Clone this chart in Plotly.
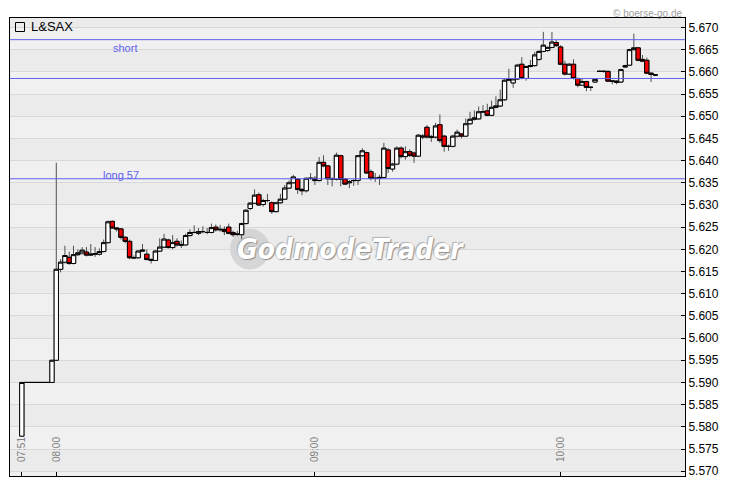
import plotly.graph_objects as go
import pandas as pd

# ---------------- data ----------------
missing_minutes = ["07:56", "09:17", "09:31", "09:46"]
times = [t for t in pd.date_range("2024-01-01 07:51", "2024-01-01 10:22", freq="min").strftime("%H:%M")
         if t not in missing_minutes]
tick_labels = ["07:51", "08:00", "09:00", "10:00"]
y_ticks = [5.570, 5.575, 5.580, 5.585, 5.590, 5.595, 5.600, 5.605, 5.610, 5.615, 5.620, 5.625,
           5.630, 5.635, 5.640, 5.645, 5.650, 5.655, 5.660, 5.665, 5.670]

opens = [5.5779, 5.5900, 5.5900, 5.5900, 5.5900, 5.5900, 5.5900, 5.5900, 5.5950,
         5.6155, 5.6171, 5.6182, 5.6168, 5.6188, 5.6192, 5.6194, 5.6187, 5.6189,
         5.6189, 5.6195, 5.6215, 5.6263, 5.6248, 5.6246, 5.6227, 5.6218, 5.6181, 5.6181,
         5.6196, 5.6189, 5.6177, 5.6175, 5.6196, 5.6205, 5.6221, 5.6204, 5.6218, 5.6210,
         5.6210, 5.6231, 5.6238, 5.6236, 5.6240, 5.6238, 5.6238, 5.6250, 5.6244, 5.6245,
         5.6250, 5.6238, 5.6234, 5.6233, 5.6258, 5.6292, 5.6304, 5.6323, 5.6301, 5.6310,
         5.6305, 5.6285, 5.6305, 5.6313, 5.6338, 5.6350, 5.6358, 5.6335, 5.6332, 5.6360,
         5.6360, 5.6355, 5.6396, 5.6388, 5.6359, 5.6358, 5.6411, 5.6358, 5.6350, 5.6355,
         5.6355, 5.6411, 5.6418, 5.6375, 5.6360, 5.6360, 5.6362, 5.6424, 5.6381, 5.6392,
         5.6428, 5.6409, 5.6420, 5.6417, 5.6410, 5.6453, 5.6475, 5.6453, 5.6453, 5.6481,
         5.6455, 5.6432, 5.6432, 5.6455, 5.6460, 5.6455, 5.6483, 5.6493, 5.6494, 5.6510,
         5.6512, 5.6502, 5.6520, 5.6523, 5.6537, 5.6581, 5.6575, 5.6584, 5.6617, 5.6585,
         5.6612, 5.6614, 5.6628, 5.6646, 5.6648, 5.6655, 5.6666, 5.6656, 5.6617, 5.6595,
         5.6617, 5.6585, 5.6570, 5.6578, 5.6565, 5.6577, 5.6601, 5.6601, 5.6601, 5.6579,
         5.6576, 5.6577, 5.6614, 5.6615, 5.6650, 5.6654, 5.6628, 5.6626, 5.6597, 5.6593]

closes = [5.5900, 5.5900, 5.5900, 5.5900, 5.5900, 5.5900, 5.5900, 5.5950, 5.6155,
          5.6171, 5.6186, 5.6168, 5.6188, 5.6192, 5.6198, 5.6187, 5.6189, 5.6190,
          5.6195, 5.6215, 5.6262, 5.6248, 5.6246, 5.6227, 5.6218, 5.6181, 5.6181, 5.6196,
          5.6198, 5.6177, 5.6175, 5.6196, 5.6205, 5.6223, 5.6204, 5.6215, 5.6210, 5.6210,
          5.6231, 5.6238, 5.6238, 5.6240, 5.6240, 5.6238, 5.6249, 5.6244, 5.6245, 5.6240,
          5.6236, 5.6233, 5.6234, 5.6258, 5.6288, 5.6304, 5.6322, 5.6300, 5.6310, 5.6310,
          5.6285, 5.6305, 5.6313, 5.6338, 5.6350, 5.6363, 5.6335, 5.6332, 5.6360, 5.6360,
          5.6355, 5.6396, 5.6388, 5.6359, 5.6359, 5.6412, 5.6358, 5.6347, 5.6352, 5.6355,
          5.6411, 5.6422, 5.6372, 5.6360, 5.6360, 5.6362, 5.6428, 5.6382, 5.6392, 5.6428,
          5.6409, 5.6420, 5.6412, 5.6410, 5.6457, 5.6455, 5.6453, 5.6453, 5.6478, 5.6445,
          5.6432, 5.6432, 5.6455, 5.6464, 5.6455, 5.6483, 5.6493, 5.6496, 5.6510, 5.6510,
          5.6502, 5.6520, 5.6523, 5.6537, 5.6581, 5.6583, 5.6584, 5.6615, 5.6585, 5.6612,
          5.6614, 5.6638, 5.6646, 5.6660, 5.6655, 5.6667, 5.6659, 5.6617, 5.6595, 5.6617,
          5.6585, 5.6570, 5.6578, 5.6565, 5.6565, 5.6583, 5.6601, 5.6601, 5.6579, 5.6579,
          5.6579, 5.6605, 5.6611, 5.6650, 5.6654, 5.6626, 5.6624, 5.6597, 5.6594, 5.6593]

highs = [5.5900, 5.5900, 5.5900, 5.5900, 5.5900, 5.5900, 5.5900, 5.5950, 5.6395,
         5.6178, 5.6208, 5.6195, 5.6208, 5.6200, 5.6205, 5.6205, 5.6212, 5.6205,
         5.6202, 5.6222, 5.6265, 5.6265, 5.6250, 5.6248, 5.6230, 5.6222, 5.6186, 5.6198,
         5.6212, 5.6200, 5.6180, 5.6198, 5.6225, 5.6235, 5.6224, 5.6232, 5.6225, 5.6220,
         5.6235, 5.6245, 5.6254, 5.6248, 5.6252, 5.6248, 5.6258, 5.6256, 5.6255, 5.6252,
         5.6258, 5.6242, 5.6242, 5.6260, 5.6290, 5.6306, 5.6335, 5.6328, 5.6314, 5.6325,
         5.6308, 5.6307, 5.6325, 5.6345, 5.6355, 5.6368, 5.6360, 5.6338, 5.6362, 5.6372,
         5.6365, 5.6408, 5.6412, 5.6390, 5.6362, 5.6418, 5.6413, 5.6360, 5.6356, 5.6358,
         5.6412, 5.6428, 5.6420, 5.6380, 5.6372, 5.6368, 5.6440, 5.6428, 5.6395, 5.6432,
         5.6432, 5.6432, 5.6425, 5.6420, 5.6460, 5.6460, 5.6480, 5.6458, 5.6485, 5.6504,
         5.6458, 5.6436, 5.6458, 5.6470, 5.6462, 5.6495, 5.6510, 5.6513, 5.6522, 5.6525,
         5.6528, 5.6535, 5.6545, 5.6560, 5.6583, 5.6607, 5.6586, 5.6618, 5.6633, 5.6614,
         5.6627, 5.6645, 5.6648, 5.6690, 5.6657, 5.6690, 5.6672, 5.6660, 5.6625, 5.6620,
         5.6628, 5.6587, 5.6585, 5.6580, 5.6568, 5.6586, 5.6603, 5.6603, 5.6603, 5.6581,
         5.6581, 5.6607, 5.6616, 5.6652, 5.6686, 5.6656, 5.6638, 5.6632, 5.6599, 5.6594]

lows = [5.5779, 5.5900, 5.5900, 5.5900, 5.5900, 5.5900, 5.5900, 5.5900, 5.5950,
        5.6148, 5.6168, 5.6165, 5.6166, 5.6185, 5.6188, 5.6184, 5.6185, 5.6183,
        5.6186, 5.6193, 5.6213, 5.6246, 5.6240, 5.6222, 5.6214, 5.6178, 5.6178, 5.6179,
        5.6194, 5.6175, 5.6168, 5.6174, 5.6195, 5.6203, 5.6202, 5.6200, 5.6206, 5.6203,
        5.6208, 5.6229, 5.6236, 5.6232, 5.6236, 5.6234, 5.6236, 5.6240, 5.6240, 5.6232,
        5.6234, 5.6228, 5.6230, 5.6223, 5.6256, 5.6288, 5.6302, 5.6298, 5.6296, 5.6306,
        5.6280, 5.6283, 5.6303, 5.6311, 5.6336, 5.6348, 5.6325, 5.6322, 5.6328, 5.6356,
        5.6345, 5.6353, 5.6385, 5.6345, 5.6342, 5.6355, 5.6342, 5.6345, 5.6338, 5.6343,
        5.6345, 5.6408, 5.6370, 5.6355, 5.6352, 5.6345, 5.6360, 5.6372, 5.6375, 5.6390,
        5.6405, 5.6402, 5.6408, 5.6395, 5.6408, 5.6448, 5.6450, 5.6442, 5.6450, 5.6440,
        5.6420, 5.6422, 5.6430, 5.6452, 5.6450, 5.6453, 5.6481, 5.6490, 5.6492, 5.6508,
        5.6500, 5.6500, 5.6518, 5.6521, 5.6535, 5.6579, 5.6564, 5.6582, 5.6583, 5.6580,
        5.6610, 5.6612, 5.6625, 5.6644, 5.6645, 5.6653, 5.6656, 5.6615, 5.6592, 5.6593,
        5.6583, 5.6565, 5.6568, 5.6556, 5.6557, 5.6575, 5.6600, 5.6598, 5.6577, 5.6572,
        5.6572, 5.6575, 5.6610, 5.6613, 5.6648, 5.6624, 5.6622, 5.6595, 5.6577, 5.6592]

level_names = ["short", "", "long 57"]
level_values = [5.66725, 5.6585, 5.6359]

# ---------------- figure ----------------
body_top = [max(o, c) for o, c in zip(opens, closes)]
body_bot = [min(o, c) for o, c in zip(opens, closes)]

fig = go.Figure()
# wicks (grey)
fig.add_trace(go.Candlestick(
    x=times, open=opens, high=highs, low=lows, close=closes,
    increasing=dict(line=dict(color="#505050", width=1), fillcolor="rgba(0,0,0,0)"),
    decreasing=dict(line=dict(color="#505050", width=1), fillcolor="rgba(0,0,0,0)"),
    whiskerwidth=0, showlegend=False, hoverinfo="skip"))
# bodies
fig.add_trace(go.Candlestick(
    x=times, open=opens, high=body_top, low=body_bot, close=closes,
    increasing=dict(line=dict(color="black", width=1), fillcolor="white"),
    decreasing=dict(line=dict(color="black", width=1), fillcolor="#f00000"),
    whiskerwidth=0, showlegend=False, name="L&SAX"))

shapes = []
# alternating background bands
for k in range(-1, 21):
    y0 = 5.570 + 0.005 * k
    shapes.append(dict(type="rect", xref="paper", yref="y", x0=0, x1=1, y0=y0, y1=y0 + 0.005,
                       fillcolor="#f0f0f0" if k % 2 else "#ebebeb", line=dict(width=0), layer="below"))
# watermark sphere
shapes.append(dict(type="circle", xref="paper", yref="paper", x0=0.326, x1=0.385, y0=0.451, y1=0.540,
                   fillcolor="#c4c4c4", opacity=0.6, line=dict(width=0), layer="below"))
# level lines
for v in level_values:
    shapes.append(dict(type="line", xref="paper", yref="y", x0=0, x1=1, y0=v, y1=v,
                       line=dict(color="#6060ee", width=1), layer="above"))
# legend square
shapes.append(dict(type="rect", xref="paper", yref="paper", xsizemode="pixel", ysizemode="pixel",
                   xanchor=0, yanchor=1, x0=5.5, x1=14.5, y0=-4.5, y1=-13.5,
                   line=dict(color="black", width=1), fillcolor="rgba(0,0,0,0)", layer="above"))

annotations = [
    dict(text="L&SAX", xref="paper", yref="paper", x=0.0275, y=0.981, xanchor="left", yanchor="middle",
         showarrow=False, font=dict(family="Liberation Sans", size=13, color="black")),
    dict(text="© boerse-go.de", xref="paper", yref="paper", x=0.9985, y=1.0, yshift=11, xanchor="right",
         yanchor="top", showarrow=False, borderpad=0,
         font=dict(family="Liberation Sans", size=10, color="#a0a0a0")),
    dict(text=level_names[0], xref="paper", yref="y", x=0.171, y=5.66548, xanchor="center", yanchor="middle",
         showarrow=False, font=dict(family="Liberation Sans", size=11, color="#6060ee")),
    dict(text=level_names[2], xref="paper", yref="y", x=0.165, y=5.63681, xanchor="center", yanchor="middle",
         showarrow=False, font=dict(family="Liberation Sans", size=11, color="#6060ee")),
    dict(text="<b><i>GodmodeTrader</i></b>", xref="paper", yref="paper", x=0.505, y=0.4956,
         xanchor="center", yanchor="middle", showarrow=False,
         font=dict(family="DejaVu Sans Condensed", size=28, color="white",
                   shadow="1px 1px 1px #8c8c8c, -1px -1px 1px #b0b0b0")),
]

# page body has an 8px default margin: the figure is sized/margined so the plot box lands at x 10..685, y 18..468
fig.update_layout(
    template="none",
    width=722, height=473, margin=dict(l=2, r=45, t=10, b=5, autoexpand=False),
    paper_bgcolor="white", plot_bgcolor="#eeeeee", boxgap=0, boxgroupgap=0, showlegend=False,
    font=dict(family="Liberation Sans", size=12, color="black"),
    shapes=shapes, annotations=annotations,
)
fig.update_xaxes(
    type="category", range=[-2.74, 153.87], rangeslider_visible=False, automargin=False,
    tickmode="array", tickvals=tick_labels, ticktext=tick_labels, tickangle=-90,
    ticks="inside", ticklen=4, tickcolor="black", ticklabelstandoff=-44,
    tickfont=dict(family="Liberation Sans", size=10, color="#808080"),
    showgrid=False, showline=True, linecolor="black", linewidth=1, mirror=True, zeroline=False,
)
fig.update_yaxes(
    side="right", range=[5.56892, 5.67213], tickmode="array", tickvals=y_ticks, tickformat=".3f",
    ticks="inside", ticklen=4, tickcolor="black", showgrid=True, gridcolor="#d8d8d8", gridwidth=1,
    showline=True, linecolor="black", linewidth=1, mirror=True, zeroline=False, automargin=False,
    tickfont=dict(family="Liberation Sans", size=12, color="black"),
)

fig.write_html("out.html")
